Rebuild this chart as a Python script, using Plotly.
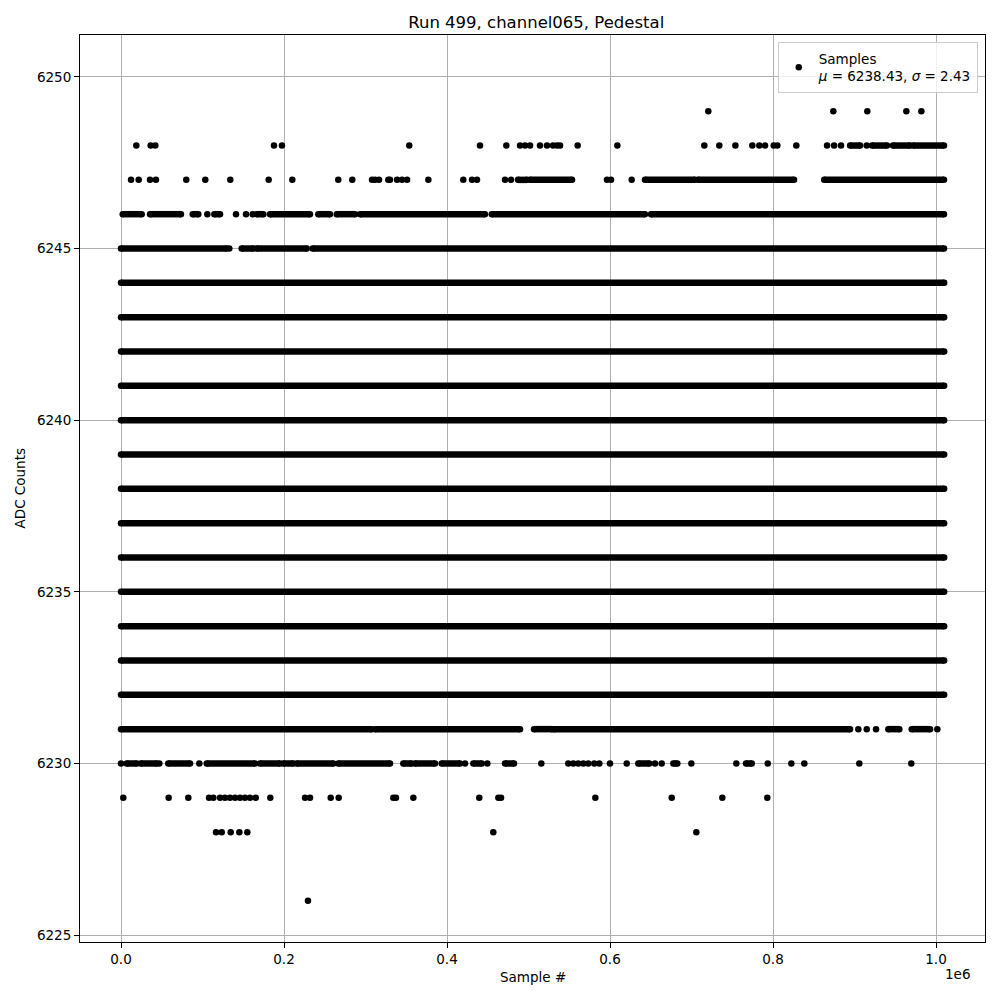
import plotly.graph_objects as go

# ---- data (sample index ranges per ADC level; start == end -> single sample) ----
dense_levels = [6232, 6233, 6234, 6235, 6236, 6237, 6238, 6239, 6240, 6241, 6242, 6243, 6244]
dense_range = (0, 1010000)

seg_6249 = [(720600, 720600), (874000, 874000), (915700, 915700), (963600, 963600), (982000, 982000)]
seg_6248 = [(18800, 18800), (36400, 36400), (42100, 42100), (187700, 187700), (197500, 197500),
            (353700, 353700), (440500, 440500), (472800, 472800), (489600, 489600), (495700, 495700),
            (501900, 501900), (514100, 514100), (522700, 522700), (530100, 530100), (535000, 535000),
            (538700, 538700), (560300, 560300), (609000, 609000), (715700, 715700), (734100, 734100),
            (753800, 753800), (774600, 774600), (783200, 783200), (790200, 790200), (800900, 800900),
            (805300, 805300), (828600, 828600), (866300, 866300), (874900, 874900), (883400, 883400),
            (894600, 906900), (915000, 915000), (921500, 939900), (947200, 968100), (971800, 1009800)]
seg_6247 = [(12300, 12300), (21700, 21700), (35600, 35600), (42900, 42900), (80100, 80100),
            (103400, 103400), (134100, 134100), (181200, 181200), (210200, 210200), (266600, 266600),
            (283800, 283800), (308000, 308000), (311700, 311700), (316600, 316600), (328000, 328000),
            (330000, 330000), (338700, 338700), (344800, 344800), (351000, 351000), (377100, 377100),
            (420000, 420000), (430700, 430700), (436800, 436800), (471200, 471200), (478500, 478500),
            (487100, 498200), (501900, 553400), (596300, 596300), (601200, 601200), (626600, 626600),
            (642900, 704300), (708000, 825800), (862800, 1009800)]
seg_6246 = [(2100, 25400), (35600, 73600), (88000, 94800), (105900, 105900), (114500, 121500),
            (141100, 141100), (153400, 153400), (161600, 161600), (166500, 174600), (182800, 231900),
            (242100, 256400), (264700, 287100), (293300, 446600), (454900, 642900), (650300, 1009800)]
seg_6245 = [(0, 129700), (132900, 132900), (148100, 162300), (166500, 227900), (235200, 1009800)]
seg_6231 = [(0, 307600), (311700, 489600), (506800, 528800), (531300, 894500), (904700, 904700),
            (915000, 915000), (926400, 926400), (941500, 955000), (970200, 992700), (1001600, 1001600)]
seg_6230 = [(0, 0), (7000, 19300), (24200, 43800), (47000, 47000), (58000, 84700), (96100, 96100),
            (105200, 164400), (170600, 195100), (199100, 211400), (215600, 260500), (266600, 330100),
            (346400, 356700), (360700, 385300), (393500, 415900), (422100, 422100), (432300, 442600),
            (449500, 449500), (471200, 482200), (515700, 515700), (548800, 548800), (555000, 555000),
            (561100, 561100), (567300, 567300), (573400, 573400), (580700, 580700), (586900, 586900),
            (600000, 600000), (620500, 620500), (634700, 648200), (655200, 655200), (663400, 663400),
            (677700, 682600), (699800, 699800), (755000, 755000), (766900, 773900), (793500, 793500),
            (822500, 822500), (838400, 838400), (905900, 905900), (969700, 969700)]
seg_6229 = [(2800, 2800), (58500, 58500), (82600, 82600), (108000, 108000), (113300, 113300),
            (121500, 121500), (127600, 127600), (133700, 133700), (139900, 139900), (146000, 146000),
            (152100, 152100), (158300, 158300), (165300, 165300), (183200, 183200), (225800, 225800),
            (231900, 231900), (257300, 257300), (267100, 267100), (334100, 334100), (337400, 337400),
            (358700, 358700), (439600, 439600), (463000, 463000), (466300, 466300), (582000, 582000),
            (675700, 675700), (737800, 737800), (793000, 793000)]
seg_6228 = [(116600, 116600), (123600, 123600), (134600, 134600), (145200, 145200), (155000, 155000),
            (456800, 456800), (705900, 705900)]
seg_6226 = [(229400, 229400)]

sparse_levels = [(6249, seg_6249), (6248, seg_6248), (6247, seg_6247), (6246, seg_6246),
                 (6245, seg_6245), (6231, seg_6231), (6230, seg_6230), (6229, seg_6229),
                 (6228, seg_6228), (6226, seg_6226)]

x_tickvals = [0, 200000, 400000, 600000, 800000, 1000000]
x_ticktext = ["0.0", "0.2", "0.4", "0.6", "0.8", "1.0"]
y_tickvals = [6225, 6230, 6235, 6240, 6245, 6250]

title = "Run 499, channel065, Pedestal"
legend_label = "Samples<br><i>μ</i> = 6238.43, <i>σ</i> = 2.43"

# ---- figure ----
FONT = "DejaVu Sans"
DOT = 6.5
fig = go.Figure()

# dense levels -> continuous bands of samples
lx, ly = [], []
for lvl in dense_levels:
    lx += [dense_range[0], dense_range[1], None]
    ly += [lvl, lvl, None]
fig.add_trace(go.Scatter(x=lx, y=ly, mode="lines+markers", showlegend=False,
                         line=dict(color="black", width=DOT),
                         marker=dict(color="black", size=DOT), hoverinfo="skip"))

# sparse levels: runs drawn as bands, single samples as dots
sx, sy, px, py = [], [], [], []
for lvl, segs in sparse_levels:
    for a, b in segs:
        if a == b:
            px.append(a)
            py.append(lvl)
        else:
            sx += [a, b, None]
            sy += [lvl, lvl, None]
fig.add_trace(go.Scatter(x=sx, y=sy, mode="lines+markers", showlegend=False,
                         line=dict(color="black", width=DOT),
                         marker=dict(color="black", size=DOT), hoverinfo="skip"))
fig.add_trace(go.Scatter(x=px, y=py, mode="markers", name=legend_label,
                         marker=dict(color="black", size=DOT)))

axis_common = dict(showgrid=True, gridcolor="#b0b0b0", gridwidth=0.8,
                   showline=True, linecolor="black", linewidth=1, mirror=True,
                   ticks="outside", ticklen=5, tickcolor="black", zeroline=False,
                   tickfont=dict(family=FONT, size=13.5, color="black"))

fig.update_layout(
    width=992, height=992,
    margin=dict(l=72, r=15, t=27, b=58),
    plot_bgcolor="white", paper_bgcolor="white",
    font=dict(family=FONT, size=13.5, color="black"),
    title=dict(text=title, x=0.5325, xanchor="center", y=0.986, yanchor="middle",
               font=dict(family=FONT, size=16.5, color="black")),
    xaxis=dict(range=[-50300, 1060100], tickvals=x_tickvals, ticktext=x_ticktext, **axis_common),
    yaxis=dict(range=[6224.80, 6251.22], tickvals=y_tickvals, **axis_common),
    legend=dict(x=0.992, y=0.992, xanchor="right", yanchor="top",
                bgcolor="rgba(255,255,255,0.8)", bordercolor="#cccccc", borderwidth=1,
                font=dict(family=FONT, size=13.5, color="black")),
    showlegend=True,
    annotations=[
        dict(text="Sample #", xref="paper", yref="paper", x=0.5, y=-0.0386,
             xanchor="center", yanchor="middle", showarrow=False,
             font=dict(family=FONT, size=13.5, color="black")),
        dict(text="ADC Counts", xref="paper", yref="paper", x=-0.0663, y=0.5,
             xanchor="center", yanchor="middle", textangle=-90, showarrow=False,
             font=dict(family=FONT, size=13.5, color="black")),
        dict(text="1e6", xref="paper", yref="paper", x=0.97, y=-0.0353,
             xanchor="center", yanchor="middle", showarrow=False,
             font=dict(family=FONT, size=13.5, color="black")),
    ],
)

fig.write_html("out.html")
